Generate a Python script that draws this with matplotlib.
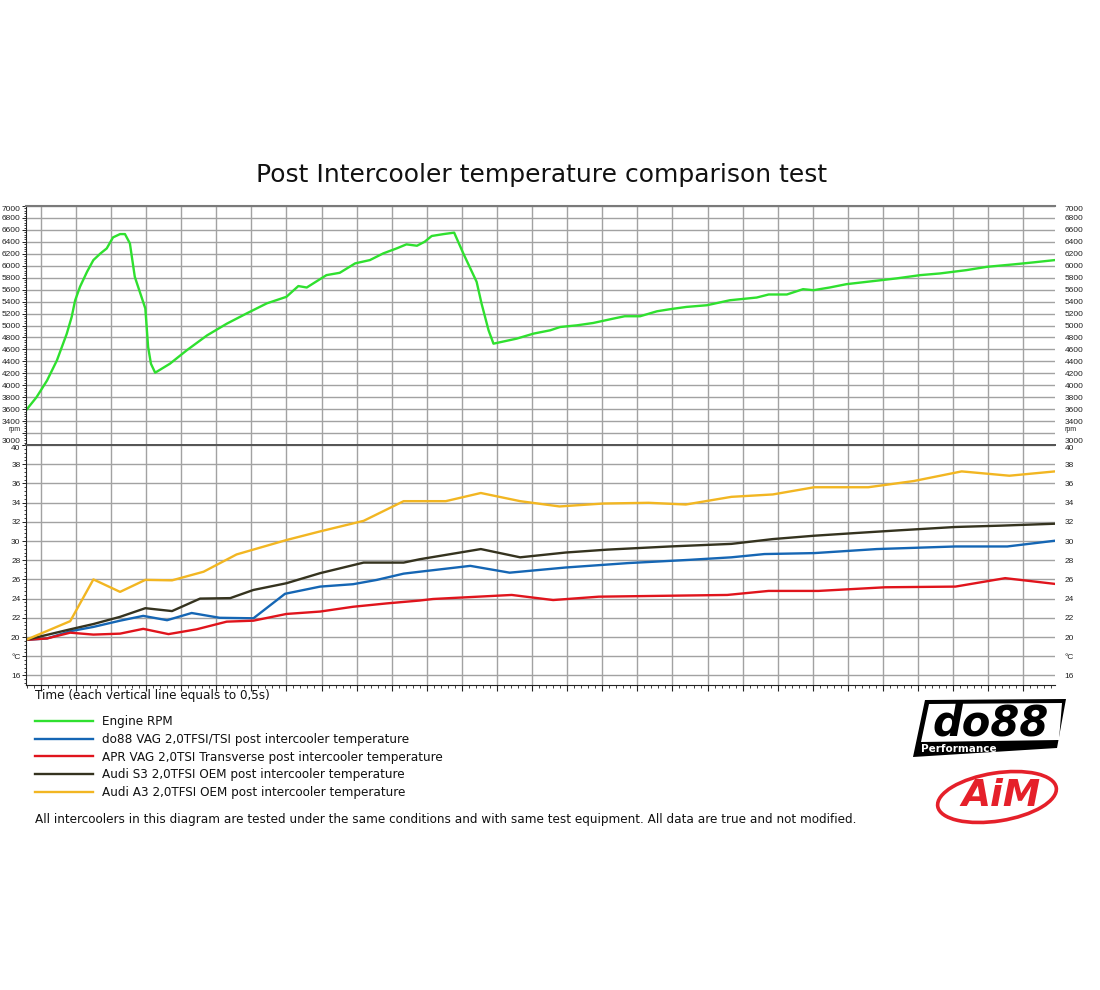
import matplotlib
matplotlib.use("Agg")
import matplotlib.pyplot as plt
from matplotlib.ticker import MultipleLocator, AutoMinorLocator
from matplotlib.patches import Polygon, Ellipse

# time in seconds (each vertical grid line = 0.5 s)
rpm_t = [0.29, 0.44, 0.59, 0.73, 0.87, 0.94, 0.99, 1.06, 1.16, 1.25, 1.35, 1.44, 1.53,
         1.63, 1.70, 1.77, 1.84, 1.99, 2.03, 2.07, 2.13, 2.34, 2.58, 2.87, 3.15, 3.43,
         3.72, 4.00, 4.17, 4.29, 4.57, 4.76, 4.98, 5.19, 5.38, 5.57, 5.71, 5.86, 5.97,
         6.07, 6.24, 6.39, 6.52, 6.71, 6.78, 6.88, 6.95, 7.28, 7.52, 7.76, 7.90, 8.14,
         8.37, 8.66, 8.82, 9.04, 9.28, 9.46, 9.70, 9.99, 10.32, 10.70, 10.87, 11.13,
         11.36, 11.51, 11.74, 11.98, 12.27, 12.69, 13.03, 13.31, 13.69, 13.98, 14.36,
         14.64, 14.95]
rpm = [3580, 3800, 4080, 4415, 4860, 5140, 5420, 5650, 5900, 6095, 6205, 6290, 6475,
       6530, 6530, 6375, 5815, 5285, 4640, 4360, 4210, 4360, 4585, 4835, 5030, 5200,
       5370, 5480, 5660, 5636, 5843, 5882, 6040, 6095, 6207, 6290, 6358, 6335, 6402,
       6498, 6530, 6554, 6207, 5731, 5368, 4920, 4696, 4780, 4864, 4920, 4975, 5003,
       5042, 5116, 5155, 5155, 5238, 5272, 5311, 5339, 5423, 5468, 5519, 5519,
       5608, 5591, 5636, 5692, 5731, 5788, 5843, 5871, 5927, 5982, 6023,
       6056, 6095]

do88_t = [0.29, 0.59, 0.92, 1.25, 1.63, 1.96, 2.30, 2.65, 3.05, 3.53, 3.98, 4.48, 4.95,
          5.29, 5.67, 5.90, 6.62, 7.18, 7.98, 8.87, 9.75, 10.34, 10.81, 11.52, 12.41,
          13.53, 14.27, 14.95]
do88 = [19.7, 19.85, 20.6, 21.05, 21.7, 22.2, 21.75, 22.5, 22.0, 21.95, 24.5, 25.25, 25.5,
        25.95, 26.6, 26.8, 27.41, 26.7, 27.24, 27.7, 28.04, 28.3, 28.64, 28.74, 29.16,
        29.43, 29.43, 30.03]

apr_t = [0.29, 0.59, 0.92, 1.25, 1.63, 1.96, 2.32, 2.72, 3.15, 3.53, 4.00, 4.48, 4.95,
         5.43, 5.90, 6.09, 7.21, 7.80, 8.45, 9.46, 10.28, 10.87, 11.58, 12.53, 13.53,
         14.24, 14.95]
apr = [19.7, 19.85, 20.45, 20.25, 20.35, 20.85, 20.3, 20.8, 21.6, 21.7, 22.4, 22.65, 23.15,
       23.5, 23.8, 23.96, 24.38, 23.85, 24.2, 24.3, 24.38, 24.8, 24.8, 25.18, 25.25,
       26.13, 25.53]

s3_t = [0.29, 0.92, 1.25, 1.63, 1.99, 2.37, 2.77, 3.20, 3.53, 4.00, 4.48, 5.10, 5.67,
        5.90, 6.77, 7.33, 7.98, 8.57, 9.46, 10.34, 10.93, 11.52, 12.11, 12.70, 13.53,
        14.18, 14.95]
s3 = [19.7, 20.8, 21.35, 22.1, 23.0, 22.7, 24.0, 24.05, 24.9, 25.6, 26.65, 27.75, 27.75,
      28.1, 29.16, 28.3, 28.8, 29.1, 29.43, 29.7, 30.2, 30.55, 30.83, 31.1, 31.46,
      31.6, 31.8]

a3_t = [0.29, 0.92, 1.25, 1.63, 1.99, 2.37, 2.82, 3.29, 4.00, 4.48, 5.10, 5.67, 6.27,
        6.77, 7.33, 7.89, 8.51, 9.16, 9.69, 10.34, 10.93, 11.52, 12.29, 12.94, 13.62,
        14.30, 14.95]
a3 = [19.7, 21.65, 26.0, 24.7, 25.95, 25.9, 26.8, 28.6, 30.1, 31.0, 32.1, 34.15, 34.15,
      35.0, 34.15, 33.6, 33.9, 33.98, 33.8, 34.6, 34.85, 35.6, 35.6, 36.25, 37.25,
      36.8, 37.25]

labels = ["Engine RPM",
          "do88 VAG 2,0TFSI/TSI post intercooler temperature",
          "APR VAG 2,0TSI Transverse post intercooler temperature",
          "Audi S3 2,0TFSI OEM post intercooler temperature",
          "Audi A3 2,0TFSI OEM post intercooler temperature"]
colors = ["#2fe02f", "#1566b4", "#e0141c", "#35331f", "#f2b622"]

rpm_ticks = list(range(3000, 7001, 200))
rpm_labels = ["rpm" if v == 3200 else str(v) for v in rpm_ticks]
temp_ticks = list(range(16, 41, 2))
temp_labels = ["°C" if v == 18 else str(v) for v in temp_ticks]

W, H = 1100, 990
fig = plt.figure(figsize=(11, 9.9), dpi=100)
ax1 = fig.add_axes([26 / W, 1 - 445 / H, 1029 / W, 239 / H])
ax2 = fig.add_axes([26 / W, 1 - 685 / H, 1029 / W, 240 / H], sharex=ax1)

grid_c = "#a2a2a2"
tick_font = {"family": "Liberation Sans", "size": 6}

def style_axis(ax):
    ax.xaxis.set_major_locator(MultipleLocator(0.5))
    ax.xaxis.set_minor_locator(MultipleLocator(0.1))
    ax.grid(True, which="major", color=grid_c, lw=1.0)
    ax.set_axisbelow(True)
    ax.spines["right"].set_visible(False)
    ax.spines["left"].set_color("#222222")
    ax.spines["left"].set_linewidth(0.8)
    ax.tick_params(axis="y", which="major", direction="out", length=3, width=0.7,
                   pad=1, colors="#222222", labelright=True, right=False)
    ax.tick_params(axis="y", which="minor", direction="out", length=1.5, width=0.6,
                   color="#222222", right=False)
    ax.yaxis.set_minor_locator(AutoMinorLocator(5))
    for tick in ax.yaxis.get_major_ticks():
        tick.label2.set_x(1.004)

ax1.plot(rpm_t, rpm, color=colors[0], lw=1.7, label=labels[0])
ax1.set_ylim(3000, 7000)
ax1.set_yticks(rpm_ticks)
ax1.set_yticklabels(rpm_labels, fontdict=tick_font)
style_axis(ax1)
ax1.tick_params(axis="x", which="both", bottom=False, labelbottom=False)
ax1.spines["top"].set_color("#7a7a7a")
ax1.spines["top"].set_linewidth(1.5)
ax1.spines["bottom"].set_color("#555555")
ax1.spines["bottom"].set_linewidth(1.4)

series = [(do88_t, do88), (apr_t, apr), (s3_t, s3), (a3_t, a3)]
handles = []
for (t, v), c, lab in zip(series, colors[1:], labels[1:]):
    h, = ax2.plot(t, v, color=c, lw=1.7, label=lab)
    handles.append(h)
ax2.set_xlim(0.29, 14.95)
ax2.set_ylim(15, 40)
ax2.set_yticks(temp_ticks)
ax2.set_yticklabels(temp_labels, fontdict=tick_font)
style_axis(ax2)
ax2.tick_params(axis="x", which="major", direction="out", length=4, width=0.8,
                color="#222222", labelbottom=False)
ax2.tick_params(axis="x", which="minor", direction="out", length=2, width=0.6,
                color="#222222")
ax2.spines["top"].set_color("#555555")
ax2.spines["top"].set_linewidth(1.4)
ax2.spines["bottom"].set_color("#222222")
ax2.spines["bottom"].set_linewidth(0.8)

# squeeze the end labels inside the axes like the logger software does
for tick in ax1.yaxis.get_major_ticks():
    val = tick.get_loc()
    for lbl in (tick.label1, tick.label2):
        if val == 7000:
            lbl.set_va("top")
        elif val == 3000:
            lbl.set_va("bottom")
        elif val == 3200:
            lbl.set_fontsize(5)
            lbl.set_va("bottom")
for tick in ax2.yaxis.get_major_ticks():
    if tick.get_loc() == 40:
        tick.label1.set_va("top")
        tick.label2.set_va("top")

fs = 8.65
fig.text(542 / W, 1 - 175 / H, "Post Intercooler temperature comparison test",
         ha="center", va="center", fontsize=18, color="#111111")
fig.text(35 / W, 1 - 696 / H, "Time (each vertical line equals to 0,5s)",
         ha="left", va="center", fontsize=fs, color="#111111")
leg = fig.legend(handles=[ax1.lines[0]] + handles, labels=labels, loc="upper left",
                 bbox_to_anchor=(35 / W, 1 - 715 / H), frameon=False, fontsize=fs,
                 handlelength=4.8, handletextpad=0.8, labelspacing=0.4,
                 borderpad=0, borderaxespad=0)
for txt in leg.get_texts():
    txt.set_color("#111111")
fig.text(35 / W, 1 - 819 / H,
         "All intercoolers in this diagram are tested under the same conditions and with "
         "same test equipment. All data are true and not modified.",
         ha="left", va="center", fontsize=fs, color="#111111")

# logos
lg = fig.add_axes([913 / W, 1 - 832 / H, 155 / W, 135 / H])
lg.set_xlim(0, 155)
lg.set_ylim(135, 0)
lg.axis("off")
lg.add_patch(Polygon([(12, 3), (153, 2), (144, 51), (0, 60)], closed=True,
                     facecolor="black", edgecolor="none"))
lg.add_patch(Polygon([(16, 7), (149, 6), (146, 43), (8, 45)], closed=True,
                     facecolor="white", edgecolor="none"))
lg.text(78, 26, "do88", ha="center", va="center", fontsize=30, fontweight="heavy",
        fontstyle="italic", color="black")
lg.text(8, 52, "Performance", ha="left", va="center", fontsize=7.5,
        fontweight="bold", color="white")
lg.add_patch(Ellipse((84, 100), 120, 48, angle=-9, facecolor="none",
                     edgecolor="#e5202a", lw=2.6))
lg.text(88, 99, "AiM", ha="center", va="center", fontsize=27, fontweight="heavy",
        fontstyle="italic", color="#e5202a")

fig.savefig("out.png", dpi=100)
